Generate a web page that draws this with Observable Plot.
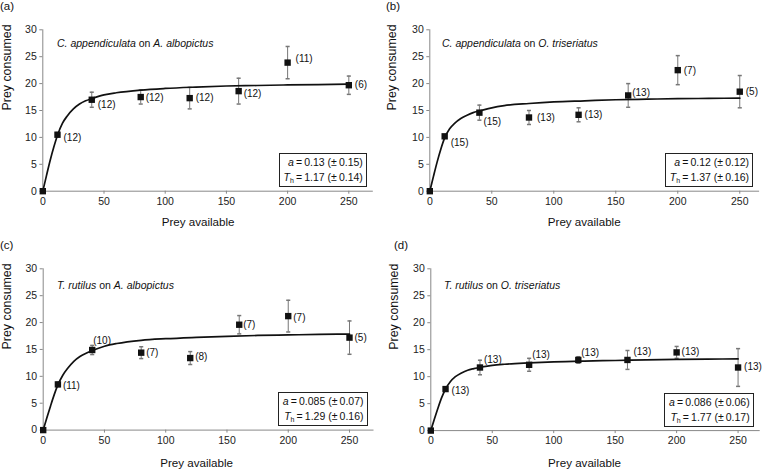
<!DOCTYPE html>
<html><head><meta charset="utf-8">
<script src="https://cdn.jsdelivr.net/npm/d3@7"></script>
<script src="https://cdn.jsdelivr.net/npm/@observablehq/plot@0.6"></script>
<style>
body{margin:0;background:#fff;}
#fig{position:relative;width:762px;height:473px;font-family:"Liberation Sans",Arial,sans-serif;color:#111;overflow:hidden;background:#fff}
.panel{position:absolute;width:381px}
.panel svg{position:absolute;left:0;top:0}
.tag{position:absolute;font-size:11.5px;line-height:1;white-space:nowrap}
.title{position:absolute;font-size:10.5px;white-space:nowrap;line-height:1}
.box{position:absolute;border:1px solid #222;font-size:10.5px;text-align:right;padding:1px 3px 1px 4px;line-height:15px;white-space:nowrap;background:#fff}
.box sub{font-size:7px;vertical-align:-2px;line-height:0}
</style></head><body><div id="fig"></div><script>
// ---- data ----
const preyAvailable = [0, 12, 40, 80, 120, 160, 200, 250];

const consumedA = [0, 10.5, 17.0, 17.5, 17.3, 18.6, 23.9, 19.7];
const seA       = [0, 0.4, 1.4, 1.3, 2.0, 2.4, 3.0, 1.7];
const nA        = [null, 12, 12, 12, 12, 12, 11, 6];

const consumedB = [0, 10.2, 14.6, 13.7, 14.2, 17.8, 22.5, 18.5];
const seB       = [0, 0.3, 1.4, 1.3, 1.3, 2.2, 2.7, 3.0];
const nB        = [null, 15, 15, 13, 13, 13, 7, 5];

const consumedC = [0, 8.5, 14.9, 14.4, 13.4, 19.6, 21.2, 17.2];
const seC       = [0, 0.4, 0.85, 1.1, 1.2, 1.7, 2.95, 3.1];
const nC        = [null, 11, 10, 7, 8, 7, 7, 5];

const consumedD = [0, 7.7, 11.7, 12.2, 13.1, 13.1, 14.5, 11.7];
const seD       = [0, 0.3, 1.35, 1.2, 0.6, 1.75, 1.1, 3.5];
const nD        = [null, 13, 13, 13, 13, 13, 13, 13];

// fitted functional-response curves
const fitPrey = [0, 3, 6, 9, 12, 16, 20, 25, 30, 35, 40, 50, 60, 80, 100, 125, 150, 175, 200, 225, 250];
const fitA = [0, 2.9, 5.7, 8.2, 10.4, 12.6, 14.0, 15.3, 16.2, 16.8, 17.2, 17.9, 18.3, 18.8, 19.1, 19.35, 19.55, 19.65, 19.75, 19.82, 19.9];
const fitB = [0, 2.8, 5.5, 7.9, 9.9, 11.6, 12.6, 13.5, 14.1, 14.6, 14.9, 15.5, 15.9, 16.3, 16.6, 16.8, 17.0, 17.1, 17.2, 17.25, 17.3];
const fitC = [0, 2.3, 4.5, 6.6, 8.4, 10.2, 11.5, 12.8, 13.7, 14.3, 14.8, 15.6, 16.1, 16.7, 17.0, 17.25, 17.45, 17.6, 17.7, 17.8, 17.85];
const fitD = [0, 2.2, 4.3, 6.2, 7.7, 9.1, 10.0, 10.7, 11.2, 11.5, 11.75, 12.1, 12.3, 12.55, 12.75, 12.9, 13.0, 13.1, 13.2, 13.25, 13.3];

const tags      = ["(a)", "(b)", "(c)", "(d)"];
const predators = ["C. appendiculata", "C. appendiculata", "T. rutilus", "T. rutilus"];
const preys     = ["A. albopictus", "O. triseriatus", "A. albopictus", "O. triseriatus"];
const aValues   = ["0.13", "0.12", "0.085", "0.086"];
const aErrors   = ["0.15", "0.12", "0.07", "0.06"];
const thValues  = ["1.17", "1.37", "1.29", "1.77"];
const thErrors  = ["0.14", "0.16", "0.16", "0.17"];

const xTicks = [0, 50, 100, 150, 200, 250];
const yTicks = [0, 5, 10, 15, 20, 25, 30];
const xTitle = "Prey available";
const yTitle = "Prey consumed";

// ---- layout (styling only) ----
const layouts = [
  {left:0,   top:0,   height:236, ml:42.3, mt:29.3, mb:45.3, mr:8.2, xMax:270, yDx:-35.3, xDy:34.5, xDx:-10, tagL:0,  tagT:1,  titleL:57, titleT:37.8,
   ldx:[0,6,6,5,6,5,8,6], ldy:[0,3,5,1,0,3,-4,0]},
  {left:381, top:0,   height:236, ml:48.3, mt:29.3, mb:45.3, mr:2.9, xMax:266, yDx:-37.5, xDy:35,   xDx:-10.5, tagL:5, tagT:1, titleL:61, titleT:37.8,
   ldx:[0,6,4,8,6,4,6,6], ldy:[0,6,9,0,0,-3,1,0]},
  {left:0,   top:236, height:237, ml:42.7, mt:32.3, mb:43.4, mr:7.5, xMax:270, yDx:-35.7, xDy:36.4, xDx:-12, tagL:0,  tagT:4,  titleL:57, titleT:43.8,
   ldx:[0,5,1,5,5,4,5,5], ldy:[0,1,-9,0,-1,0,2,0]},
  {left:381, top:236, height:237, ml:49.3, mt:32.3, mb:42.9, mr:2.3, xMax:268, yDx:-36.3, xDy:36.6, xDx:-11, tagL:13, tagT:4, titleL:63, titleT:43.8,
   ldx:[0,6,4,3,3,6,5,6], ldy:[0,2,-8,-10,-7,-8,-1,-1]}
];

const consumed = [consumedA, consumedB, consumedC, consumedD];
const errors   = [seA, seB, seC, seD];
const counts   = [nA, nB, nC, nD];
const fits     = [fitA, fitB, fitC, fitD];

const capSymbol = {draw(ctx, size) { const r = Math.sqrt(size) / 2; ctx.moveTo(-r, 0); ctx.lineTo(r, 0); }};
const fig = document.getElementById("fig");

layouts.forEach((L, p) => {
  const pts = preyAvailable.map((x, i) => ({x, y: consumed[p][i], se: errors[p][i], n: counts[p][i], i}));
  const bars = pts.filter(d => d.se > 0);
  const curve = fitPrey.map((x, i) => ({x, y: fits[p][i]}));
  const labelMarks = pts.filter(d => d.n != null).map(d =>
    Plot.text([d], {x: "x", y: "y", text: d => `(${d.n})`, textAnchor: "start", dx: L.ldx[d.i], dy: L.ldy[d.i], fontSize: 10, fill: "#111"}));

  const chart = Plot.plot({
    width: 381, height: L.height,
    marginLeft: L.ml, marginTop: L.mt, marginBottom: L.mb, marginRight: L.mr,
    style: {fontFamily: '"Liberation Sans", Arial, sans-serif', fontSize: "10.5px", background: "transparent", overflow: "visible", color: "#222"},
    x: {domain: [0, L.xMax]},
    y: {domain: [0, 30]},
    marks: [
      Plot.ruleY([0], {stroke: "#888"}),
      Plot.ruleX([0], {stroke: "#888"}),
      Plot.axisX({ticks: xTicks, tickSize: 3, tickPadding: 3, tickFormat: "d", label: null, stroke: "#888", fill: "#222"}),
      Plot.axisY({ticks: yTicks, tickSize: 3, tickPadding: 3, tickFormat: "d", label: null, stroke: "#888", fill: "#222"}),
      Plot.ruleX(bars, {x: "x", y1: d => d.y - d.se, y2: d => d.y + d.se, stroke: "#777", strokeWidth: 1}),
      Plot.dot(bars, {x: "x", y: d => d.y - d.se, symbol: capSymbol, r: 2.3, stroke: "#777", fill: "none"}),
      Plot.dot(bars, {x: "x", y: d => d.y + d.se, symbol: capSymbol, r: 2.3, stroke: "#777", fill: "none"}),
      Plot.line(curve, {x: "x", y: "y", curve: "monotone-x", stroke: "#111", strokeWidth: 1.7}),
      Plot.dot(pts, {x: "x", y: "y", symbol: "square", r: 3.6, fill: "#111", stroke: "none"}),
      ...labelMarks,
      Plot.text([yTitle], {text: d => d, frameAnchor: "left", rotate: -90, dx: L.yDx, fontSize: 12.4, fill: "#111"}),
      Plot.text([xTitle], {text: d => d, frameAnchor: "bottom", dy: L.xDy, dx: L.xDx, fontSize: 11.6, fill: "#111"})
    ]
  });

  const panel = document.createElement("div");
  panel.className = "panel";
  panel.style.left = L.left + "px";
  panel.style.top = L.top + "px";
  panel.style.height = L.height + "px";
  panel.appendChild(chart);

  const tag = document.createElement("div");
  tag.className = "tag";
  tag.style.left = L.tagL + "px"; tag.style.top = L.tagT + "px";
  tag.textContent = tags[p];
  panel.appendChild(tag);

  const title = document.createElement("div");
  title.className = "title";
  title.style.left = L.titleL + "px"; title.style.top = L.titleT + "px";
  title.innerHTML = `<i>${predators[p]}</i> on <i>${preys[p]}</i>`;
  panel.appendChild(title);

  const box = document.createElement("div");
  box.className = "box";
  box.style.right = (L.mr + 6) + "px";
  box.style.bottom = (L.mb + 3.5) + "px";
  box.innerHTML = `<i>a</i>\u2009=\u2009${aValues[p]} (±\u2009${aErrors[p]})<br><i>T</i><sub>h</sub>\u2009=\u2009${thValues[p]} (±\u2009${thErrors[p]})`;
  panel.appendChild(box);

  fig.appendChild(panel);
});
</script></body></html>
